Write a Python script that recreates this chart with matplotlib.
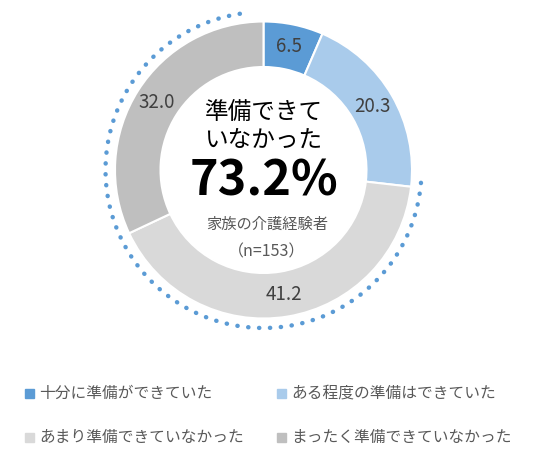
import matplotlib
matplotlib.use("Agg")
import matplotlib.pyplot as plt
from matplotlib.patches import Arc, Rectangle

plt.rcParams['font.family'] = ['Noto Sans CJK JP', 'DejaVu Sans']

# data
categories = ['十分に準備ができていた', 'ある程度の準備はできていた',
              'あまり準備できていなかった', 'まったく準備できていなかった']
values = [6.5, 20.3, 41.2, 32.0]
colors = ['#5B9BD5', '#A9CBEB', '#D9D9D9', '#BFBFBF']
center_title = '準備できて\nいなかった'
center_value = '73.2%'
center_note = '家族の介護経験者'
center_n = '（n=153）'

W, H = 541, 468
fig = plt.figure(figsize=(W / 100, H / 100), dpi=100)
ax = fig.add_axes([0, 0, 1, 1])

cx, cy = 263.5, H - 170
R = 148.5

wedges, texts, autotexts = ax.pie(
    values, colors=colors, startangle=90, counterclock=False,
    radius=R, center=(cx, cy), autopct='%.1f', pctdistance=0.85,
    wedgeprops=dict(width=45.5, edgecolor='white', linewidth=1.5),
    textprops=dict(fontsize=13.5, color='#404040'), frame=True)
ax.set_xlim(0, W)
ax.set_ylim(0, H)
ax.set_aspect('equal')
ax.axis('off')

# dotted arc around the "not prepared" part
arc = Arc((cx, cy), 2 * 158, 2 * 158, theta1=98.6, theta2=355.5,
          color='#5B9BD5', linewidth=3.2, linestyle=(0, (0.05, 2.4)))
arc.set_capstyle('round')
ax.add_patch(arc)

ax.text(cx, H - 127, center_title, ha='center', va='center', fontsize=17,
        color='black', linespacing=1.2)
ax.text(cx, H - 181, center_value, ha='center', va='center', fontsize=35,
        fontweight='bold', color='black')
ax.text(cx + 4, H - 224, center_note, ha='center', va='center', fontsize=11,
        color='#595959')
ax.text(cx + 3, H - 252, center_n, ha='center', va='center', fontsize=11.5,
        color='#595959')

# legend
leg_pos = [(29, 393), (281, 393), (29, 437), (281, 437)]
for (x, y), lab, col in zip(leg_pos, categories, colors):
    ax.add_patch(Rectangle((x - 4.5, H - y - 4.5), 9, 9, color=col))
    ax.text(x + 10, H - y, lab, ha='left', va='center', fontsize=11.3,
            color='#595959')

fig.savefig('out.png', dpi=100)
